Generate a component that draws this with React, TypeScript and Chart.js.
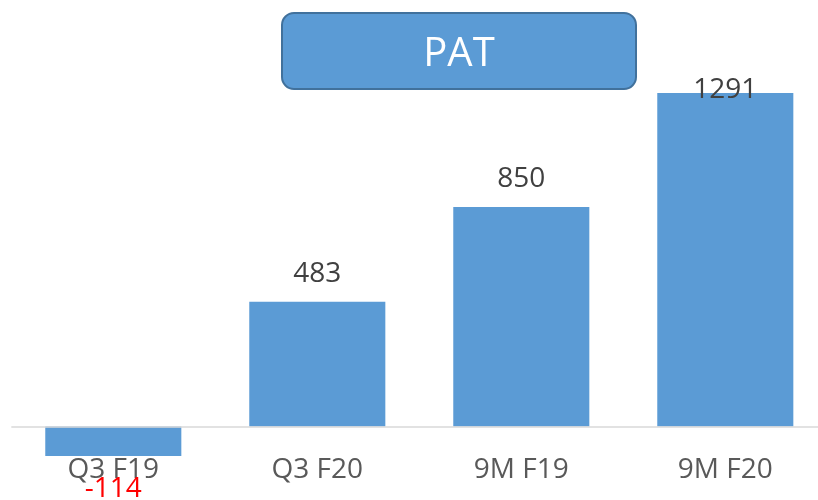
import React, { useEffect, useRef } from "react";
import { Chart, registerables } from "chart.js";

Chart.register(...registerables);

const categories = ["Q3 F19", "Q3 F20", "9M F19", "9M F20"];
const patValues = [-114, 483, 850, 1291];
const titleText = "PAT";

const BAR_COLOR = "#5B9BD5";
const FONT = "'Open Sans', 'Noto Sans', sans-serif";

const overlayPlugin = {
  id: "overlay",
  afterDatasetsDraw(chart: any) {
    const { ctx, chartArea, scales } = chart;
    const x = scales.x;
    const y = scales.y;
    const zero = y.getPixelForValue(0);
    ctx.save();
    // baseline
    ctx.strokeStyle = "#D9D9D9";
    ctx.lineWidth = 1.5;
    ctx.beginPath();
    ctx.moveTo(chartArea.left, zero + 0.5);
    ctx.lineTo(chartArea.right, zero + 0.5);
    ctx.stroke();

    // category labels
    ctx.font = `28px ${FONT}`;
    ctx.textAlign = "center";
    ctx.textBaseline = "alphabetic";
    ctx.fillStyle = "#595959";
    categories.forEach((c, i) => {
      ctx.fillText(c, x.getPixelForValue(i), zero + 51.5);
    });

    // data labels
    const meta = chart.getDatasetMeta(0);
    patValues.forEach((v, i) => {
      const bar = meta.data[i];
      const cx = bar.x;
      if (v >= 0) {
        let base = bar.y - 20;
        if (base - 20 < chartArea.top) base = chartArea.top + 20;
        ctx.fillStyle = "#404040";
        ctx.fillText(String(v), cx, base);
      } else {
        ctx.fillStyle = "#FF0000";
        ctx.fillText(String(v), cx, bar.y + 41);
      }
    });

    // title box
    const bx = 282, by = 13, bw = 354, bh = 76;
    ctx.beginPath();
    (ctx as any).roundRect(bx, by, bw, bh, 12);
    ctx.fillStyle = BAR_COLOR;
    ctx.fill();
    ctx.lineWidth = 2;
    ctx.strokeStyle = "#41719C";
    ctx.stroke();
    ctx.fillStyle = "#FFFFFF";
    ctx.font = `40px ${FONT}`;
    ctx.textAlign = "center";
    ctx.textBaseline = "alphabetic";
    ctx.fillText(titleText, bx + bw / 2, 66);
    ctx.restore();
  },
};

export default function App() {
  const ref = useRef<HTMLCanvasElement>(null);
  useEffect(() => {
    document.body.style.margin = "0";
    document.body.style.overflow = "hidden";
    const chart = new Chart(ref.current as HTMLCanvasElement, {
      type: "bar",
      data: {
        labels: categories,
        datasets: [
          {
            data: patValues,
            backgroundColor: BAR_COLOR,
            borderWidth: 0,
            barPercentage: 0.667,
            categoryPercentage: 1,
          },
        ],
      },
      options: {
        responsive: false,
        animation: false,
        layout: { padding: { left: 11.3, right: 12.7, top: 77.7, bottom: 34.7 } },
        plugins: { legend: { display: false }, tooltip: { enabled: false }, title: { display: false } },
        scales: {
          x: { display: false },
          y: { display: false, min: -150, max: 1350 },
        },
      },
      plugins: [overlayPlugin],
    });
    return () => chart.destroy();
  }, []);
  return (
    <div style={{ position: "fixed", left: 0, top: 0, width: 818, height: 500, overflow: "hidden", background: "#fff" }}>
      <canvas ref={ref} width={840} height={500} style={{ width: 840, height: 500, display: "block" }} />
    </div>
  );
}
